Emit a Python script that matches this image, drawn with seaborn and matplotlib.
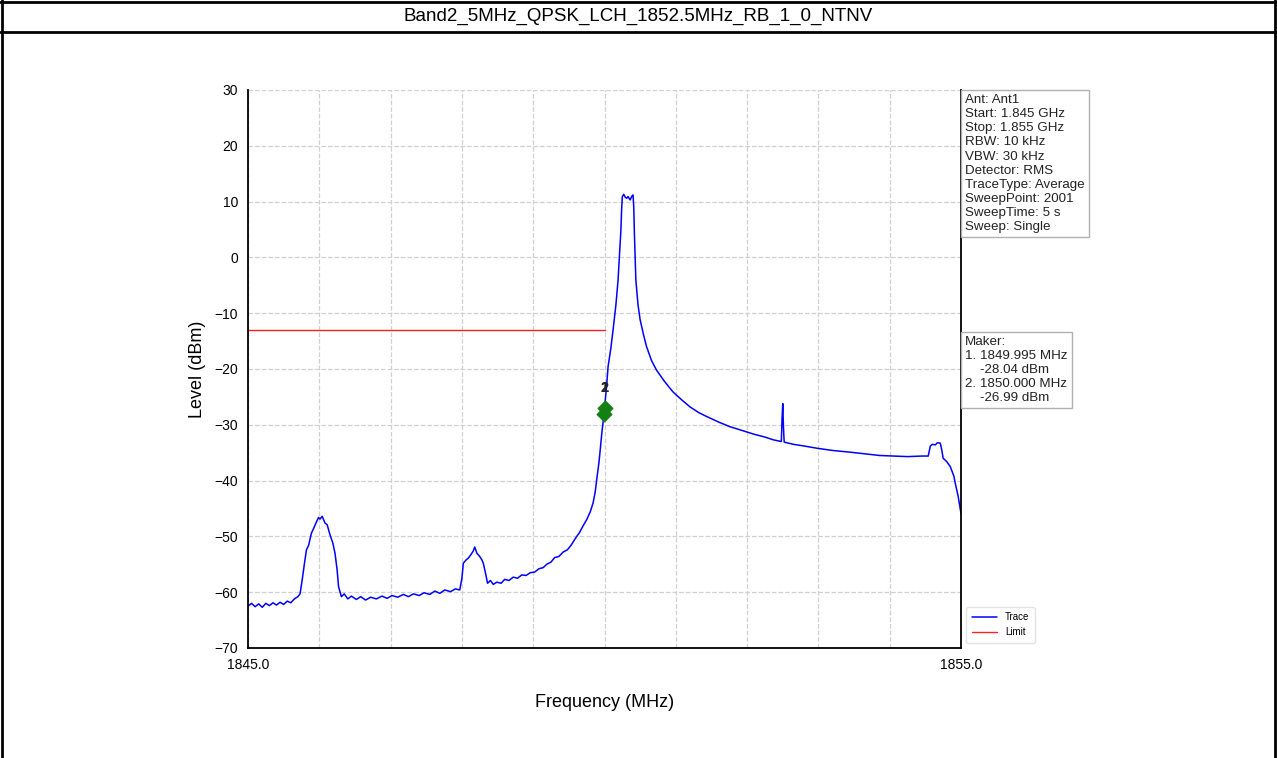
import numpy as np
import pandas as pd
import matplotlib
matplotlib.use("Agg")
import matplotlib.pyplot as plt
import seaborn as sns
from matplotlib.lines import Line2D

# ---- data ----
TITLE = "Band2_5MHz_QPSK_LCH_1852.5MHz_RB_1_0_NTNV"

trace_freq = [
    1845.00, 1845.05, 1845.10, 1845.15, 1845.20, 1845.25, 1845.30, 1845.35, 1845.40, 1845.45,
    1845.50, 1845.55, 1845.60, 1845.65, 1845.70, 1845.73, 1845.76, 1845.79, 1845.82, 1845.85,
    1845.89, 1845.93, 1845.96, 1845.99, 1846.01, 1846.04, 1846.08, 1846.11, 1846.15, 1846.19,
    1846.22, 1846.25, 1846.27, 1846.31, 1846.35, 1846.40, 1846.45, 1846.52, 1846.58, 1846.65,
    1846.72, 1846.80, 1846.88, 1846.95, 1847.02, 1847.10, 1847.18, 1847.25, 1847.32, 1847.40,
    1847.47, 1847.55, 1847.62, 1847.69, 1847.76, 1847.84, 1847.91, 1847.97, 1848.00, 1848.02,
    1848.06, 1848.09, 1848.13, 1848.16, 1848.18, 1848.21, 1848.25, 1848.28, 1848.30, 1848.33,
    1848.36, 1848.40, 1848.44, 1848.49, 1848.55, 1848.60, 1848.66, 1848.72, 1848.78, 1848.84,
    1848.90, 1848.96, 1849.02, 1849.08, 1849.14, 1849.19, 1849.25, 1849.30, 1849.36, 1849.42,
    1849.48, 1849.53, 1849.56, 1849.60, 1849.65, 1849.70, 1849.75, 1849.80, 1849.84, 1849.87,
    1849.89, 1849.92, 1849.94, 1849.96, 1849.98, 1849.995, 1850.00, 1850.03, 1850.05, 1850.09,
    1850.12, 1850.16, 1850.19, 1850.21, 1850.23, 1850.24, 1850.25, 1850.27, 1850.29, 1850.31,
    1850.33, 1850.36, 1850.38, 1850.40, 1850.41, 1850.42, 1850.44, 1850.47, 1850.50, 1850.55,
    1850.59, 1850.66, 1850.73, 1850.84, 1850.96, 1851.08, 1851.20, 1851.32, 1851.43, 1851.60,
    1851.75, 1851.90, 1852.10, 1852.25, 1852.37, 1852.48, 1852.49, 1852.50, 1852.51, 1852.52,
    1852.65, 1852.80, 1852.98, 1853.20, 1853.44, 1853.65, 1853.86, 1854.05, 1854.25, 1854.45,
    1854.54, 1854.57, 1854.60, 1854.64, 1854.67, 1854.71, 1854.73, 1854.75, 1854.80, 1854.85,
    1854.90, 1854.92, 1854.96, 1855.00,
]
trace_level = [
    -62.5, -62.0, -62.6, -62.1, -62.7, -62.0, -62.4, -61.9, -62.3, -61.8,
    -62.2, -61.6, -61.9, -61.2, -60.8, -60.3, -57.8, -55.0, -52.4, -51.6,
    -49.4, -48.3, -47.4, -46.6, -46.9, -46.4, -47.6, -47.9, -49.7, -51.2,
    -53.0, -56.0, -59.0, -60.8, -60.3, -61.2, -60.7, -61.3, -60.8, -61.4,
    -60.9, -61.2, -60.7, -61.1, -60.6, -60.9, -60.4, -60.8, -60.3, -60.6,
    -60.1, -60.4, -59.8, -60.2, -59.6, -59.9, -59.4, -59.6, -57.5, -54.8,
    -54.2, -53.9, -53.2, -52.6, -51.9, -53.0, -53.6, -54.2, -54.8, -56.5,
    -58.4, -57.9, -58.6, -58.2, -58.4, -57.7, -57.9, -57.3, -57.5, -56.9,
    -57.0, -56.5, -56.4, -55.8, -55.6, -55.0, -54.6, -53.8, -53.6, -52.8,
    -52.4, -51.6, -51.0, -50.2, -49.3, -48.1, -47.0, -45.6, -44.0, -42.0,
    -39.9, -37.0, -34.5, -31.8, -29.5, -28.04, -26.99, -23.0, -19.6, -16.2,
    -13.0, -8.5, -4.1, 0.5, 4.9, 8.5, 10.9, 11.3, 10.8, 10.6,
    10.9, 10.3, 10.9, 11.2, 9.1, 4.0, -4.1, -8.5, -11.2, -14.0,
    -16.0, -18.5, -20.2, -22.2, -24.1, -25.5, -26.8, -27.8, -28.5, -29.5,
    -30.3, -30.9, -31.7, -32.2, -32.7, -33.0, -29.0, -26.2, -30.5, -33.1,
    -33.5, -33.8, -34.2, -34.6, -34.9, -35.2, -35.5, -35.6, -35.7, -35.6,
    -35.6, -33.8, -33.5, -33.6, -33.2, -33.3, -34.5, -36.0, -36.6, -37.5,
    -39.2, -40.5, -42.8, -45.9,
]

limit_freq = [1845.0, 1850.0]
limit_level = [-13.0, -13.0]

marker_freq = [1849.995, 1850.000]
marker_level = [-28.04, -26.99]
marker_names = ["1", "2"]

info_lines = [
    "Ant: Ant1",
    "Start: 1.845 GHz",
    "Stop: 1.855 GHz",
    "RBW: 10 kHz",
    "VBW: 30 kHz",
    "Detector: RMS",
    "TraceType: Average",
    "SweepPoint: 2001",
    "SweepTime: 5 s",
    "Sweep: Single",
]
maker_lines = [
    "Maker:",
    "1. 1849.995 MHz",
    "    -28.04 dBm",
    "2. 1850.000 MHz",
    "    -26.99 dBm",
]

trace_df = pd.DataFrame({"freq": trace_freq, "level": trace_level})
limit_df = pd.DataFrame({"freq": limit_freq, "level": limit_level})

# ---- figure ----
sns.set_style("white")
plt.rcParams["font.family"] = ["Liberation Sans", "DejaVu Sans"]
plt.rcParams["text.color"] = "black"
plt.rcParams["axes.labelcolor"] = "black"
plt.rcParams["xtick.color"] = "black"
plt.rcParams["ytick.color"] = "black"

fig = plt.figure(figsize=(12.77, 7.58), dpi=100)

# outer frame (no bottom edge) and title bar
bar_y = 1 - 32 / 758
for xs, ys in [([0.0015, 0.0015], [0, 1]), ([0.9985, 0.9985], [0, 1]),
               ([0, 1], [0.998, 0.998]), ([0, 1], [bar_y, bar_y])]:
    fig.lines.append(Line2D(xs, ys, transform=fig.transFigure, color="black", linewidth=2))
fig.text(0.5, 1 - 16 / 758, TITLE, ha="center", va="center", fontsize=13.5)

ax = fig.add_axes([248 / 1277, 1 - 648 / 758, 713 / 1277, 558 / 758])

sns.lineplot(data=trace_df, x="freq", y="level", ax=ax, color="#0000ff",
             linewidth=1.1, sort=False, estimator=None, label="Trace")
sns.lineplot(data=limit_df, x="freq", y="level", ax=ax, color="#ff2020",
             linewidth=1.0, sort=False, estimator=None, label="Limit")

ax.scatter(marker_freq, marker_level, marker="D", s=55, color="#138013",
           zorder=5, edgecolors="#138013")
for f, lv, name in zip(marker_freq, marker_level, marker_names):
    ax.text(f, -24.6, name, ha="center", va="bottom", fontsize=10.5,
            fontweight="bold", color="#222222", zorder=6)

ax.set_xlim(1845, 1855)
ax.set_ylim(-70, 30)
ax.set_xticks([1845, 1855])
ax.set_xticklabels(["1845.0", "1855.0"])
ax.set_xticks(np.arange(1846, 1855), minor=True)
ax.set_yticks(np.arange(-70, 31, 10))
ax.tick_params(axis="both", which="major", direction="inout", length=7,
               width=1.2, labelsize=10, color="black")
ax.tick_params(axis="x", which="minor", direction="inout", length=5,
               width=1.0, color="black")
ax.grid(True, which="both", color="#d0d0d0", linestyle="--", linewidth=0.9)

for side in ["left", "bottom", "right"]:
    ax.spines[side].set_color("black")
    ax.spines[side].set_linewidth(1.3)
ax.spines["top"].set_visible(False)

ax.set_xlabel("Frequency (MHz)", fontsize=13, labelpad=16)
ax.set_ylabel("Level (dBm)", fontsize=13, labelpad=6)

box = dict(boxstyle="square,pad=0.3", facecolor="white", edgecolor="#b0b0b0", linewidth=1)
ax.text(1.006, 0.993, "\n".join(info_lines), transform=ax.transAxes, ha="left", va="top",
        fontsize=9.6, linespacing=1.24, bbox=box, color="#222222")
ax.text(1.006, 0.56, "\n".join(maker_lines), transform=ax.transAxes, ha="left", va="top",
        fontsize=9.6, linespacing=1.24, bbox=box, color="#222222")

leg = ax.legend(loc="lower left", bbox_to_anchor=(1.0, 0.0), fontsize=7,
                frameon=True, handlelength=2.6, borderpad=0.6, labelspacing=0.5)
leg.get_frame().set_edgecolor("#dddddd")

fig.savefig("out.png", dpi=100)
